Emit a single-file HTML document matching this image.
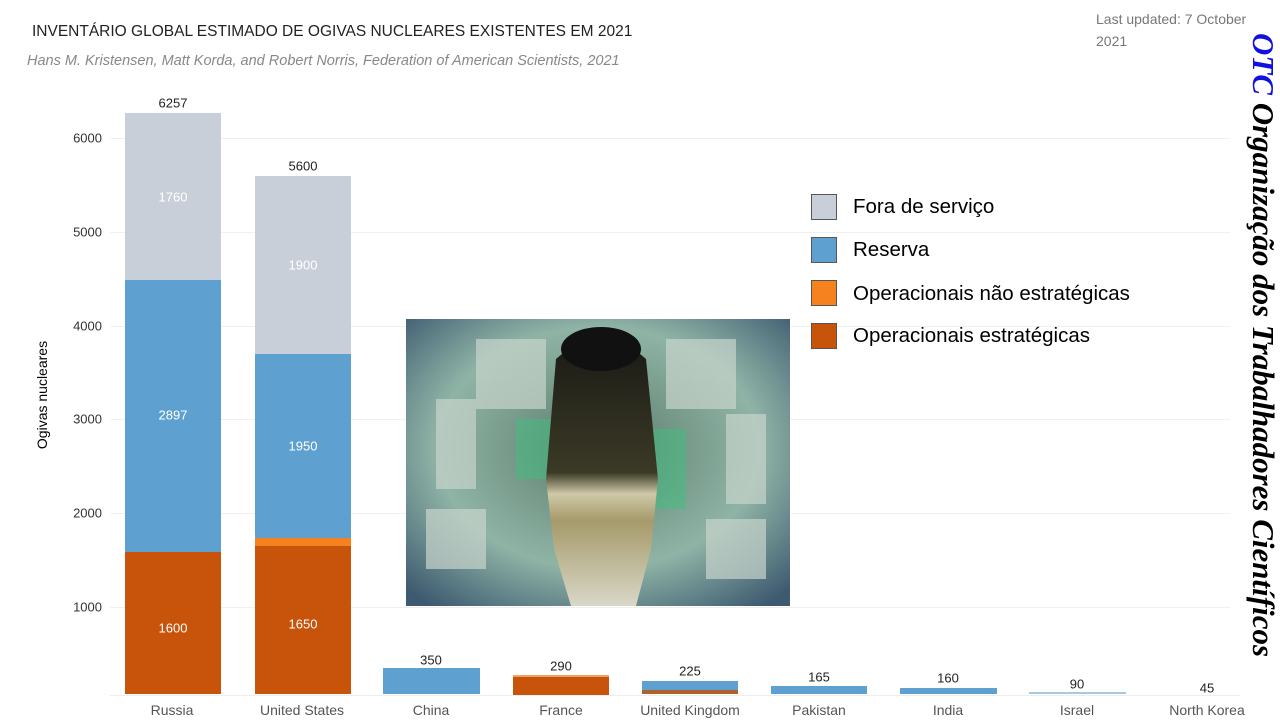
<!DOCTYPE html>
<html><head><meta charset="utf-8"><style>
body{margin:0;width:1280px;height:720px;background:#fff;position:relative;overflow:hidden;font-family:"Liberation Sans",sans-serif}
.a{position:absolute;white-space:nowrap}
.b{position:absolute}
.yl{position:absolute;right:1178px;font-size:13px;color:#333;transform:translateY(-50%)}
.g{position:absolute;left:110px;width:1120px;height:1px;background:#f0f0f0}
.v{position:absolute;font-size:13px;color:#222;transform:translate(-50%,-50%);white-space:nowrap}
.w{position:absolute;font-size:13px;color:#fff;transform:translate(-50%,-50%)}
.c{position:absolute;font-size:14px;color:#555;top:710px;transform:translate(-50%,-50%);white-space:nowrap}
.lg{position:absolute;left:811px;width:24px;height:24px;border:1px solid #555}
.lt{position:absolute;left:853px;font-size:20.5px;color:#000;transform:translateY(-50%);white-space:nowrap}
</style></head><body>
<div class="a" style="left:32px;top:23px;font-size:15.5px;color:#222">INVENTÁRIO GLOBAL ESTIMADO DE OGIVAS NUCLEARES EXISTENTES EM 2021</div>
<div class="a" style="left:27px;top:53px;font-size:14.5px;color:#888;font-style:italic">Hans M. Kristensen, Matt Korda, and Robert Norris, Federation of American Scientists, 2021</div>
<div class="a" style="left:1096px;top:8px;font-size:14px;color:#777;line-height:22px">Last updated: 7 October<br>2021</div>

<div class="g" style="top:138px"></div><div class="g" style="top:232px"></div><div class="g" style="top:326px"></div><div class="g" style="top:419px"></div><div class="g" style="top:513px"></div><div class="g" style="top:607px"></div>
<div class="yl" style="top:138px">6000</div><div class="yl" style="top:232px">5000</div><div class="yl" style="top:326px">4000</div><div class="yl" style="top:419px">3000</div><div class="yl" style="top:513px">2000</div><div class="yl" style="top:607px">1000</div>
<div class="a" style="left:42px;top:395px;font-size:14px;color:#000;transform:translate(-50%,-50%) rotate(-90deg)">Ogivas nucleares</div>

<div class="b" style="left:125px;width:96px;top:113px;height:167px;background:#c8cfd8"></div>
<div class="b" style="left:125px;width:96px;top:280px;height:272px;background:#5ea1d0"></div>
<div class="b" style="left:125px;width:96px;top:552px;height:142px;background:#c8530a"></div>
<div class="b" style="left:255px;width:96px;top:176px;height:178px;background:#c8cfd8"></div>
<div class="b" style="left:255px;width:96px;top:354px;height:184px;background:#5ea1d0"></div>
<div class="b" style="left:255px;width:96px;top:538px;height:8px;background:#f5821f"></div>
<div class="b" style="left:255px;width:96px;top:546px;height:148px;background:#c8530a"></div>
<div class="b" style="left:383px;width:97px;top:668px;height:26px;background:#5ea1d0"></div>
<div class="b" style="left:513px;width:96px;top:675px;height:19px;background:#c8530a;border-top:2px solid #f3a060"></div>
<div class="b" style="left:642px;width:96px;top:681px;height:9px;background:#5ea1d0"></div>
<div class="b" style="left:642px;width:96px;top:690px;height:4px;background:#b0602a"></div>
<div class="b" style="left:771px;width:96px;top:686px;height:8px;background:#5ea1d0"></div>
<div class="b" style="left:900px;width:97px;top:688px;height:6px;background:#5ea1d0"></div>
<div class="b" style="left:1029px;width:97px;top:692px;height:2px;background:#a8c8e0"></div>
<div class="b" style="left:110px;width:1130px;top:695px;height:1px;background:#eee"></div>

<div class="v" style="left:173px;top:103px">6257</div>
<div class="v" style="left:303px;top:166px">5600</div>
<div class="v" style="left:431px;top:660px">350</div>
<div class="v" style="left:561px;top:666px">290</div>
<div class="v" style="left:690px;top:671px">225</div>
<div class="v" style="left:819px;top:677px">165</div>
<div class="v" style="left:948px;top:678px">160</div>
<div class="v" style="left:1077px;top:684px">90</div>
<div class="v" style="left:1207px;top:688px">45</div>
<div class="w" style="left:173px;top:197px">1760</div>
<div class="w" style="left:173px;top:415px">2897</div>
<div class="w" style="left:173px;top:628px">1600</div>
<div class="w" style="left:303px;top:265px">1900</div>
<div class="w" style="left:303px;top:446px">1950</div>
<div class="w" style="left:303px;top:624px">1650</div>

<div class="c" style="left:172px">Russia</div><div class="c" style="left:302px">United States</div><div class="c" style="left:431px">China</div><div class="c" style="left:561px">France</div><div class="c" style="left:690px">United Kingdom</div><div class="c" style="left:819px">Pakistan</div><div class="c" style="left:948px">India</div><div class="c" style="left:1077px">Israel</div><div class="c" style="left:1207px">North Korea</div>

<svg class="b" style="left:406px;top:319px" width="384" height="287" viewBox="0 0 384 287">
<defs>
<radialGradient id="bg" cx="0.5" cy="0.45" r="0.7"><stop offset="0" stop-color="#5a7a68"/><stop offset="0.6" stop-color="#8fb4a6"/><stop offset="1" stop-color="#3d5a70"/></radialGradient>
<linearGradient id="m" x1="0" y1="0" x2="0" y2="1"><stop offset="0" stop-color="#1a1a16"/><stop offset="0.5" stop-color="#3b3a26"/><stop offset="0.58" stop-color="#cfc9a8"/><stop offset="0.68" stop-color="#a69a6a"/><stop offset="1" stop-color="#d8d8c8"/></linearGradient>
</defs>
<rect width="384" height="287" fill="url(#bg)"/>
<g fill="#c8d4cc" opacity="0.7"><rect x="70" y="20" width="70" height="70"/><rect x="260" y="20" width="70" height="70"/><rect x="30" y="80" width="40" height="90"/><rect x="320" y="95" width="40" height="90"/><rect x="20" y="190" width="60" height="60"/><rect x="300" y="200" width="60" height="60"/></g>
<g fill="#3fbf7f" opacity="0.5"><rect x="110" y="100" width="40" height="60"/><rect x="240" y="110" width="40" height="80"/></g>
<path d="M150 40 Q195 0 240 40 L252 160 L245 230 L230 287 L165 287 L148 230 L140 160 Z" fill="url(#m)"/>
<ellipse cx="195" cy="30" rx="40" ry="22" fill="#111"/>
</svg>

<div class="lg" style="top:194px;background:#c8cfd8"></div><div class="lt" style="top:207px">Fora de serviço</div>
<div class="lg" style="top:237px;background:#5ea1d0"></div><div class="lt" style="top:250px">Reserva</div>
<div class="lg" style="top:280px;background:#f5821f"></div><div class="lt" style="top:294px">Operacionais não estratégicas</div>
<div class="lg" style="top:323px;background:#c8530a"></div><div class="lt" style="top:336px">Operacionais estratégicas</div>

<div class="a" style="left:1263px;top:345px;transform:translate(-50%,-50%) rotate(90deg);font-family:'Liberation Serif',serif;font-weight:bold;font-style:italic;font-size:31px;color:#000"><span style="color:#1010e0">OTC</span> Organização dos Trabalhadores Científicos</div>
</body></html>
